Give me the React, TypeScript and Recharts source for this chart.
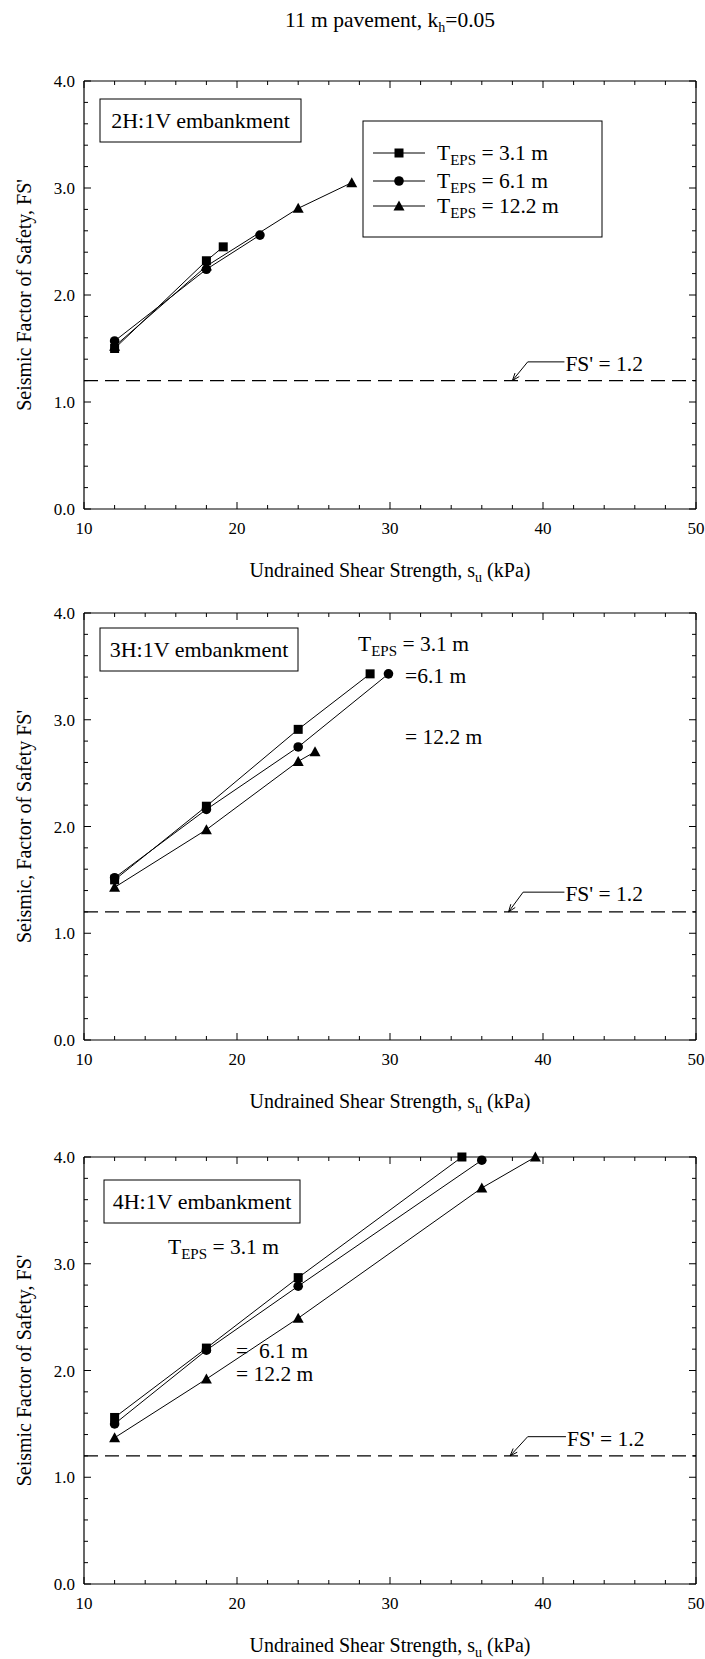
import React from 'react';
import { LineChart, Line, XAxis, YAxis, ReferenceLine } from 'recharts';

const FONT = "'Liberation Serif', 'Times New Roman', serif";

// ---- axis ticks ----
const xTicks = [10, 12, 14, 16, 18, 20, 22, 24, 26, 28, 30, 32, 34, 36, 38, 40, 42, 44, 46, 48, 50];
const xLabelTicks = [10, 20, 30, 40, 50];
const yTicks = [0, 0.2, 0.4, 0.6, 0.8, 1, 1.2, 1.4, 1.6, 1.8, 2, 2.2, 2.4, 2.6, 2.8, 3, 3.2, 3.4, 3.6, 3.8, 4];
const yLabelTicks = [0, 1, 2, 3, 4];

// ---- Panel 1: 2H:1V ----
const p1SqX = [12, 18, 19.1];
const p1SqY = [1.5, 2.32, 2.45];
const p1CiX = [12, 18, 21.5];
const p1CiY = [1.57, 2.24, 2.56];
const p1TrX = [12, 18, 24, 27.5];
const p1TrY = [1.52, 2.27, 2.81, 3.05];

// ---- Panel 2: 3H:1V ----
const p2SqX = [12, 18, 24, 28.7];
const p2SqY = [1.5, 2.19, 2.91, 3.43];
const p2CiX = [12, 18, 24, 29.9];
const p2CiY = [1.52, 2.16, 2.745, 3.43];
const p2TrX = [12, 18, 24, 25.1];
const p2TrY = [1.43, 1.97, 2.61, 2.7];

// ---- Panel 3: 4H:1V ----
const p3SqX = [12, 18, 24, 34.7];
const p3SqY = [1.56, 2.21, 2.87, 4.0];
const p3CiX = [12, 18, 24, 36];
const p3CiY = [1.5, 2.19, 2.79, 3.97];
const p3TrX = [12, 18, 24, 36, 39.5];
const p3TrY = [1.37, 1.92, 2.49, 3.71, 4.0];

const FS_LIMIT = 1.2;

const zip = (xs: number[], ys: number[]) => xs.map((x, i) => ({ x, y: ys[i] }));

const PLOT_L = 84;
const PLOT_R = 696;
const PLOT_W = PLOT_R - PLOT_L;
const W = 705;

const isMajor = (v: number, step: number) => Math.abs(v / step - Math.round(v / step)) < 1e-6;

const makeXTick = (plotH: number) => (props: any) => {
  const { x, y, payload } = props;
  const v = payload.value;
  const major = isMajor(v, 10);
  const len = major ? 7 : 4;
  return (
    <g>
      <line x1={x} x2={x} y1={y} y2={y - len} stroke="#000" strokeWidth={1} />
      <line x1={x} x2={x} y1={y - plotH} y2={y - plotH + len} stroke="#000" strokeWidth={1} />
      {xLabelTicks.some((t) => Math.abs(t - v) < 1e-6) && (
        <text x={x} y={y + 25} textAnchor="middle" fontSize={17} fontFamily={FONT} fill="#000">
          {v}
        </text>
      )}
    </g>
  );
};

const yTick = (props: any) => {
  const { x, y, payload } = props;
  const v = payload.value;
  const major = isMajor(v, 1);
  const len = major ? 7 : 4;
  return (
    <g>
      <line x1={x} x2={x + len} y1={y} y2={y} stroke="#000" strokeWidth={1} />
      <line x1={x + PLOT_W} x2={x + PLOT_W - len} y1={y} y2={y} stroke="#000" strokeWidth={1} />
      {yLabelTicks.some((t) => Math.abs(t - v) < 1e-6) && (
        <text x={x - 9} y={y + 6} textAnchor="end" fontSize={17} fontFamily={FONT} fill="#000">
          {v.toFixed(1)}
        </text>
      )}
    </g>
  );
};

const SquareDot = (props: any) => {
  const { cx, cy } = props;
  if (cx == null || cy == null) return <g />;
  return <rect x={cx - 4.5} y={cy - 4.5} width={9} height={9} fill="#000" />;
};
const CircleDot = (props: any) => {
  const { cx, cy } = props;
  if (cx == null || cy == null) return <g />;
  return <circle cx={cx} cy={cy} r={4.8} fill="#000" />;
};
const TriDot = (props: any) => {
  const { cx, cy } = props;
  if (cx == null || cy == null) return <g />;
  return <path d={`M${cx},${cy - 5.5} L${cx + 5.5},${cy + 4.5} L${cx - 5.5},${cy + 4.5} Z`} fill="#000" />;
};

const ArrowShape = (props: any) => {
  const { x1, y1, x2, y2 } = props;
  const ang = Math.atan2(y2 - y1, x2 - x1);
  const L = 8;
  const a1 = ang + 0.35;
  const a2 = ang - 0.35;
  return (
    <g>
      <line x1={x1} y1={y1} x2={x2} y2={y2} stroke="#000" strokeWidth={1} />
      <path
        d={`M${x1 + L * Math.cos(a1)},${y1 + L * Math.sin(a1)} L${x1},${y1} L${x1 + L * Math.cos(a2)},${y1 + L * Math.sin(a2)}`}
        stroke="#000"
        strokeWidth={1}
        fill="none"
      />
    </g>
  );
};

const LeaderText = (props: any) => {
  const { x1, y1, x2, y2 } = props;
  return (
    <g>
      <line x1={x1} y1={y1} x2={x2} y2={y2} stroke="#000" strokeWidth={1} />
      <text x={x2 + 1} y={y2 + 9} fontSize={21.5} fontFamily={FONT} fill="#000">
        FS' = 1.2
      </text>
    </g>
  );
};

type PanelProps = {
  top: number;
  plotH: number;
  sq: { x: number; y: number }[];
  ci: { x: number; y: number }[];
  tr: { x: number; y: number }[];
  tip: number;
  elbowX: number;
  elbowY: number;
  textX: number;
};

const Panel = ({ top, plotH, sq, ci, tr, tip, elbowX, elbowY, textX }: PanelProps) => {
  const mTop = 20;
  const xH = 70;
  const H = plotH + mTop + xH;
  return (
    <div style={{ position: 'absolute', left: 0, top: top - mTop, width: W, height: H }}>
      <LineChart width={W} height={H} margin={{ top: mTop, right: W - PLOT_R, bottom: 0, left: 0 }}>
        <XAxis
          dataKey="x"
          type="number"
          domain={[10, 50]}
          ticks={xTicks}
          interval={0}
          tickSize={0}
          tickMargin={0}
          tickLine={false}
          height={xH}
          axisLine={{ stroke: '#000', strokeWidth: 1.2 }}
          tick={makeXTick(plotH)}
          allowDuplicatedCategory={false}
        />
        <YAxis
          dataKey="y"
          type="number"
          domain={[0, 4]}
          ticks={yTicks}
          interval={0}
          tickSize={0}
          tickMargin={0}
          tickLine={false}
          width={PLOT_L}
          axisLine={{ stroke: '#000', strokeWidth: 1.2 }}
          tick={yTick}
        />
        <ReferenceLine y={4} stroke="#000" strokeWidth={1.2} />
        <ReferenceLine x={50} stroke="#000" strokeWidth={1.2} />
        <ReferenceLine y={FS_LIMIT} stroke="#000" strokeWidth={1.2} strokeDasharray="14 7" />
        <ReferenceLine
          segment={[
            { x: tip, y: FS_LIMIT },
            { x: elbowX, y: elbowY },
          ]}
          shape={ArrowShape}
        />
        <ReferenceLine
          segment={[
            { x: elbowX, y: elbowY },
            { x: textX, y: elbowY },
          ]}
          shape={LeaderText}
        />
        <Line data={tr} dataKey="y" type="linear" stroke="#000" strokeWidth={1} dot={TriDot} activeDot={false} isAnimationActive={false} />
        <Line data={ci} dataKey="y" type="linear" stroke="#000" strokeWidth={1} dot={CircleDot} activeDot={false} isAnimationActive={false} />
        <Line data={sq} dataKey="y" type="linear" stroke="#000" strokeWidth={1} dot={SquareDot} activeDot={false} isAnimationActive={false} />
      </LineChart>
    </div>
  );
};

const P1 = { top: 81, plotH: 428 };
const P2 = { top: 613, plotH: 427 };
const P3 = { top: 1157, plotH: 427 };

const XTitle = ({ y }: { y: number }) => (
  <text x={390} y={y} textAnchor="middle" fontSize={20} fontFamily={FONT} fill="#000">
    Undrained Shear Strength, s
    <tspan fontSize={14} dy={5}>u</tspan>
    <tspan dy={-5}>{'\u00A0(kPa)'}</tspan>
  </text>
);

const YTitle = ({ cy, label }: { cy: number; label: string }) => (
  <text transform={`translate(31, ${cy}) rotate(-90)`} textAnchor="middle" fontSize={20} fontFamily={FONT} fill="#000">
    {label}
  </text>
);

const Teps = ({ x, y, rest }: { x: number; y: number; rest: string }) => (
  <text x={x} y={y} fontSize={21.5} fontFamily={FONT} fill="#000">
    T<tspan fontSize={15} dy={5}>EPS</tspan>
    <tspan dy={-5}>{rest}</tspan>
  </text>
);

const Plain = ({ x, y, s }: { x: number; y: number; s: string }) => (
  <text x={x} y={y} fontSize={21.5} fontFamily={FONT} fill="#000">
    {s}
  </text>
);

const Box = ({ x, y, w, h, s }: { x: number; y: number; w: number; h: number; s: string }) => (
  <g>
    <rect x={x} y={y} width={w} height={h} fill="#fff" stroke="#000" strokeWidth={1} />
    <text x={x + w / 2} y={y + h / 2 + 7.5} textAnchor="middle" fontSize={22} fontFamily={FONT} fill="#000">
      {s}
    </text>
  </g>
);

const legendRows = [
  { y: 153, kind: 'sq', rest: '\u00A0= 3.1 m' },
  { y: 181, kind: 'ci', rest: '\u00A0= 6.1 m' },
  { y: 206, kind: 'tr', rest: '\u00A0= 12.2 m' },
];

export default function App() {
  return (
    <div style={{ position: 'absolute', left: 0, top: 0, width: W, height: 1659, background: '#fff' }}>
      <Panel top={P1.top} plotH={P1.plotH} sq={zip(p1SqX, p1SqY)} ci={zip(p1CiX, p1CiY)} tr={zip(p1TrX, p1TrY)} tip={38} elbowX={39} elbowY={1.375} textX={41.4} />
      <Panel top={P2.top} plotH={P2.plotH} sq={zip(p2SqX, p2SqY)} ci={zip(p2CiX, p2CiY)} tr={zip(p2TrX, p2TrY)} tip={37.75} elbowX={38.7} elbowY={1.385} textX={41.4} />
      <Panel top={P3.top} plotH={P3.plotH} sq={zip(p3SqX, p3SqY)} ci={zip(p3CiX, p3CiY)} tr={zip(p3TrX, p3TrY)} tip={37.85} elbowX={39} elbowY={1.38} textX={41.5} />
      <svg width={W} height={1659} style={{ position: 'absolute', left: 0, top: 0, pointerEvents: 'none' }}>
        <text x={390} y={27} textAnchor="middle" fontSize={21.5} fontFamily={FONT} fill="#000">
          11 m pavement, k<tspan fontSize={14} dy={5}>h</tspan>
          <tspan dy={-5}>=0.05</tspan>
        </text>

        {/* panel 1 */}
        <YTitle cy={P1.top + P1.plotH / 2} label="Seismic Factor of Safety, FS'" />
        <XTitle y={P1.top + P1.plotH + 67.5} />
        <Box x={100} y={99} w={201} h={43} s="2H:1V embankment" />
        <rect x={363} y={121} width={239} height={116} fill="none" stroke="#000" strokeWidth={1} />
        {legendRows.map((r) => (
          <g key={r.y}>
            <line x1={373} x2={425} y1={r.y} y2={r.y} stroke="#000" strokeWidth={1} />
            {r.kind === 'sq' && <SquareDot cx={399} cy={r.y} />}
            {r.kind === 'ci' && <CircleDot cx={399} cy={r.y} />}
            {r.kind === 'tr' && <TriDot cx={399} cy={r.y} />}
            <Teps x={437} y={r.y + 7} rest={r.rest} />
          </g>
        ))}

        {/* panel 2 */}
        <YTitle cy={P2.top + P2.plotH / 2} label="Seismic, Factor of Safety FS'" />
        <XTitle y={P2.top + P2.plotH + 67.5} />
        <Box x={100} y={628} w={198} h={43} s="3H:1V embankment" />
        <Teps x={358} y={651} rest={'\u00A0= 3.1 m'} />
        <Plain x={405} y={683} s="=6.1 m" />
        <Plain x={405} y={744} s="= 12.2 m" />

        {/* panel 3 */}
        <YTitle cy={P3.top + P3.plotH / 2} label="Seismic Factor of Safety, FS'" />
        <XTitle y={P3.top + P3.plotH + 67.5} />
        <Box x={104} y={1180} w={196} h={43} s="4H:1V embankment" />
        <Teps x={168} y={1254} rest={'\u00A0= 3.1 m'} />
        <Plain x={236} y={1358} s={'=\u00A0\u00A06.1 m'} />
        <Plain x={236} y={1381} s="= 12.2 m" />
      </svg>
    </div>
  );
}
